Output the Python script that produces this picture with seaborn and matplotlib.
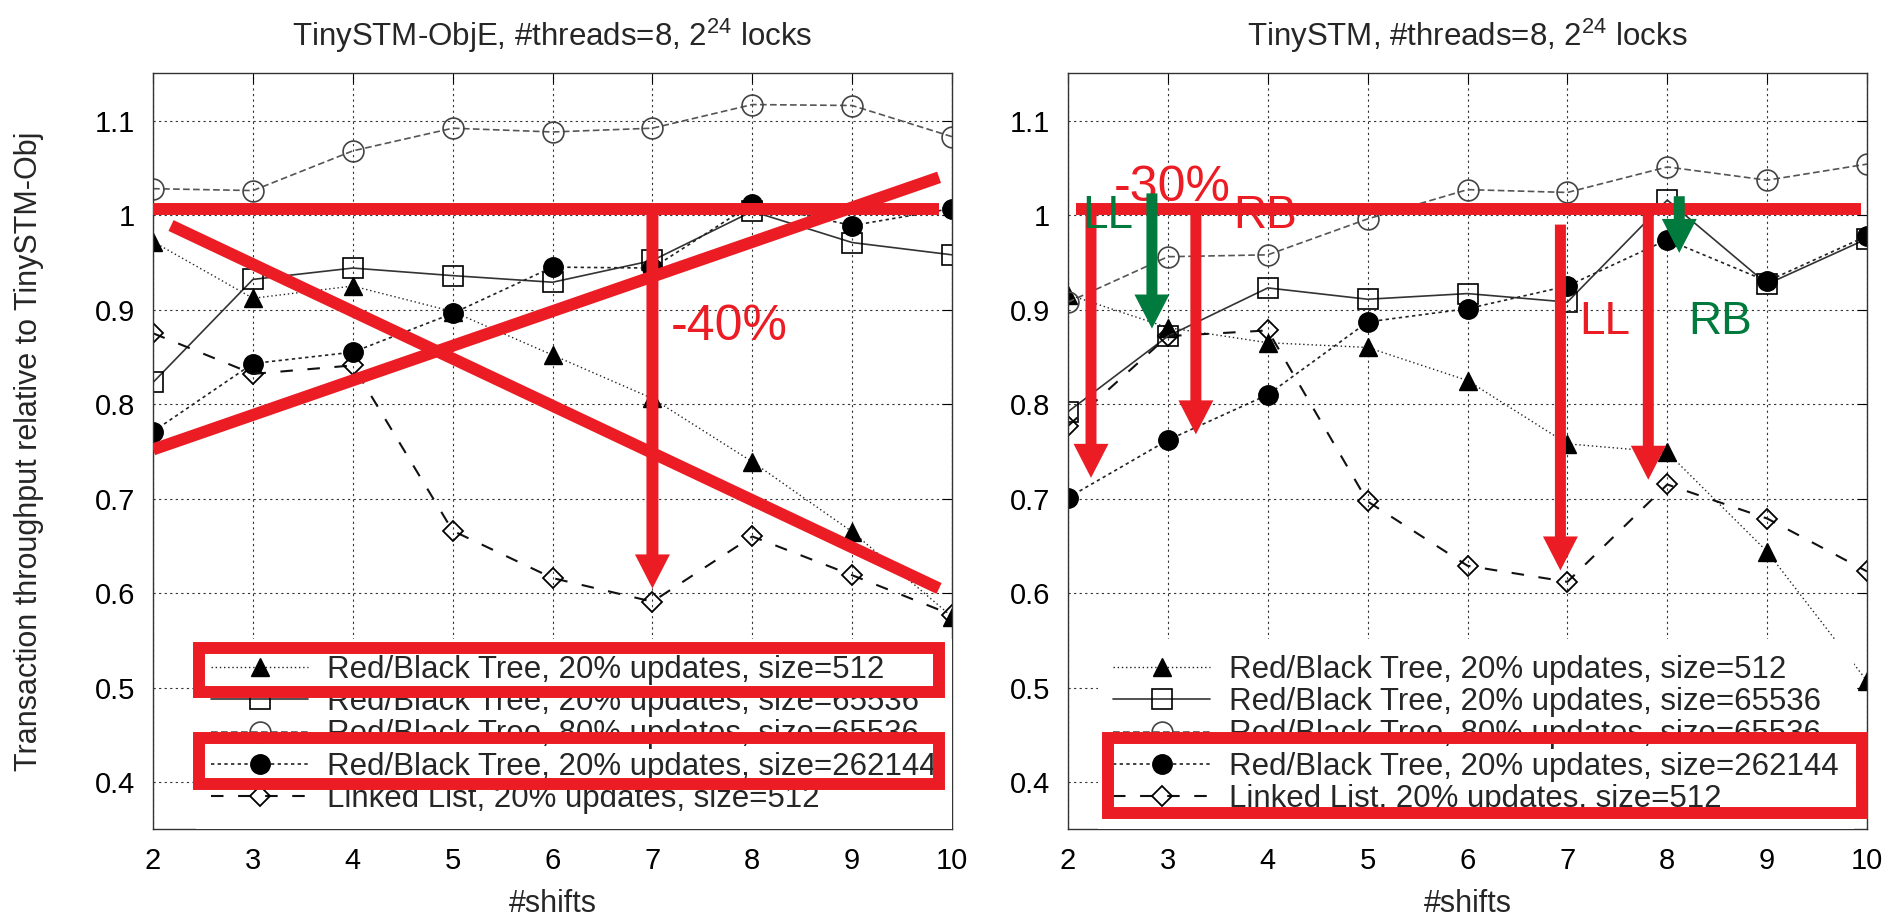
import matplotlib
matplotlib.use("Agg")
import matplotlib.pyplot as plt
from matplotlib.patches import Rectangle
import seaborn as sns

sns.set_theme(style="white")
plt.rcParams["font.family"] = ["Liberation Sans", "DejaVu Sans"]
plt.rcParams["mathtext.default"] = "regular"

# ---- data ----
shifts = [2, 3, 4, 5, 6, 7, 8, 9, 10]

series_labels = [
    "Red/Black Tree, 20% updates, size=512",
    "Red/Black Tree, 20% updates, size=65536",
    "Red/Black Tree, 80% updates, size=65536",
    "Red/Black Tree, 20% updates, size=262144",
    "Linked List, 20% updates, size=512",
]

# TinySTM-ObjE panel
obje_rb512 = [0.972, 0.912, 0.925, 0.898, 0.852, 0.806, 0.739, 0.665, 0.575]
obje_rb65536 = [0.823, 0.932, 0.944, 0.936, 0.929, 0.952, 1.004, 0.971, 0.958]
obje_rb80 = [1.028, 1.026, 1.068, 1.092, 1.088, 1.092, 1.117, 1.116, 1.083]
obje_rb262144 = [0.771, 0.843, 0.855, 0.896, 0.945, 0.944, 1.012, 0.989, 1.007]
obje_ll512 = [0.875, 0.832, 0.841, 0.666, 0.616, 0.591, 0.660, 0.619, 0.577]

# TinySTM panel
tiny_rb512 = [0.916, 0.881, 0.865, 0.860, 0.825, 0.758, 0.749, 0.644, 0.507]
tiny_rb65536 = [0.792, 0.872, 0.923, 0.911, 0.917, 0.908, 1.016, 0.927, 0.975]
tiny_rb80 = [0.908, 0.956, 0.958, 0.996, 1.027, 1.024, 1.051, 1.037, 1.054]
tiny_rb262144 = [0.701, 0.762, 0.810, 0.887, 0.901, 0.925, 0.974, 0.930, 0.978]
tiny_ll512 = [0.777, 0.872, 0.878, 0.697, 0.629, 0.612, 0.715, 0.679, 0.623]

y_ticks = [0.4, 0.5, 0.6, 0.7, 0.8, 0.9, 1.0, 1.1]
y_tick_labels = ["0.4", "0.5", "0.6", "0.7", "0.8", "0.9", "1", "1.1"]

RED = "#EC1C24"
GREEN = "#007A3D"

# gnuplot-like line/point styles, one per series
styles = [
    dict(marker="^", ms=13, mfc="black", mec="black", mew=1.0,
         linestyle=(0, (1, 2)), lw=1.0, color="#222222"),
    dict(marker="s", ms=15, mfc="none", mec="black", mew=1.2,
         linestyle="-", lw=1.2, color="#333333"),
    dict(marker="o", ms=15, mfc="none", mec="#444444", mew=1.2,
         linestyle=(0, (4, 2)), lw=1.2, color="#555555"),
    dict(marker="o", ms=14, mfc="black", mec="black", mew=1.0,
         linestyle=(0, (2, 2)), lw=1.2, color="#222222"),
    dict(marker="D", ms=10, mfc="none", mec="black", mew=1.3,
         linestyle=(0, (6, 7)), lw=1.5, color="#111111"),
]


def draw_panel(ax, series, title, legend_right):
    for vals, lab, st in zip(series, series_labels, styles):
        sns.lineplot(x=shifts, y=vals, ax=ax, label=lab, **st)
    ax.set_xlim(2, 10)
    ax.set_ylim(0.35, 1.15)
    ax.set_xticks(shifts)
    ax.set_yticks(y_ticks)
    ax.set_yticklabels(y_tick_labels)
    ax.set_axisbelow(True)
    ax.grid(True, color="#333333", linestyle=(0, (2, 3)), linewidth=0.8)
    for sp in ax.spines.values():
        sp.set_color("#333333")
        sp.set_linewidth(1.0)
    ax.tick_params(axis="both", direction="in", length=7, width=0.8,
                   top=True, right=True, labelsize=21, pad=13, colors="black")
    ax.set_title(title, fontsize=22.5, pad=20)
    ax.set_xlabel("#shifts", fontsize=22, labelpad=10)
    leg = ax.legend(loc="lower right", bbox_to_anchor=(legend_right, 0),
                    fontsize=22.5, frameon=True, fancybox=False,
                    facecolor="white", edgecolor="none", framealpha=1,
                    borderpad=0.5, borderaxespad=0, handlelength=3.1,
                    handletextpad=0.6, labelspacing=0.07, numpoints=1)
    leg.set_zorder(5)


def down_arrow(ax, x, y0, y1, color, width=0.11, head_width=0.35):
    ax.arrow(x, y0, 0, y1 - y0, width=width, head_width=head_width,
             head_length=0.036, length_includes_head=True, color=color,
             lw=0, zorder=8)


def red_line(ax, xs, ys):
    ax.plot(xs, ys, color=RED, lw=8.6, solid_capstyle="butt", zorder=7)


def red_box(ax, x0, y0, x1, y1):
    ax.add_patch(Rectangle((x0, y0), x1 - x0, y1 - y0, fill=False, ec=RED,
                           lw=8.6, joinstyle="miter", zorder=9, clip_on=False))


fig = plt.figure(figsize=(18.92, 9.16), dpi=100)
ax1 = fig.add_axes([0.0809, 0.0945, 0.4223, 0.8254])
ax2 = fig.add_axes([0.5645, 0.0945, 0.4223, 0.8254])

draw_panel(ax1, [obje_rb512, obje_rb65536, obje_rb80, obje_rb262144, obje_ll512],
           "TinySTM-ObjE, #threads=8, 2$^{24}$ locks", 1.0)
draw_panel(ax2, [tiny_rb512, tiny_rb65536, tiny_rb80, tiny_rb262144, tiny_ll512],
           "TinySTM, #threads=8, 2$^{24}$ locks", 0.984)

ax1.set_ylabel("Transaction throughput relative to TinySTM-Obj", fontsize=22)
ax1.yaxis.set_label_coords(-0.136, 0.5)
ax2.set_ylabel("")

# ---- red / green annotations, left panel ----
red_line(ax1, [2.0, 9.87], [1.007, 1.007])
red_line(ax1, [2.18, 9.87], [0.989, 0.605])
red_line(ax1, [2.0, 9.87], [0.752, 1.040])
down_arrow(ax1, 7.0, 1.007, 0.605, RED, width=0.12)
ax1.text(7.18, 0.882, "-40%", color=RED, fontsize=36, ha="left",
         va="center", zorder=9)
red_box(ax1, 2.46, 0.495, 9.87, 0.542)
red_box(ax1, 2.46, 0.398, 9.87, 0.447)

# ---- red / green annotations, right panel ----
ax2.text(3.04, 1.029, "-30%", color=RED, fontsize=36, ha="center",
         va="center", zorder=6)
red_line(ax2, [2.08, 9.94], [1.007, 1.007])
down_arrow(ax2, 2.23, 1.007, 0.722, RED)
down_arrow(ax2, 3.28, 1.007, 0.768, RED)
down_arrow(ax2, 6.93, 0.99, 0.624, RED)
down_arrow(ax2, 7.81, 1.007, 0.720, RED)
down_arrow(ax2, 2.84, 1.023, 0.880, GREEN)
down_arrow(ax2, 8.12, 1.020, 0.960, GREEN)
ax2.text(2.395, 0.999, "LL", color=GREEN, fontsize=33, ha="center",
         va="center", zorder=9)
ax2.text(3.97, 0.999, "RB", color=RED, fontsize=33, ha="center",
         va="center", zorder=9)
ax2.text(7.37, 0.887, "LL", color=RED, fontsize=33, ha="center",
         va="center", zorder=9)
ax2.text(8.53, 0.887, "RB", color=GREEN, fontsize=33, ha="center",
         va="center", zorder=9)
red_box(ax2, 2.40, 0.367, 9.95, 0.447)

fig.savefig("out.png", dpi=100)
